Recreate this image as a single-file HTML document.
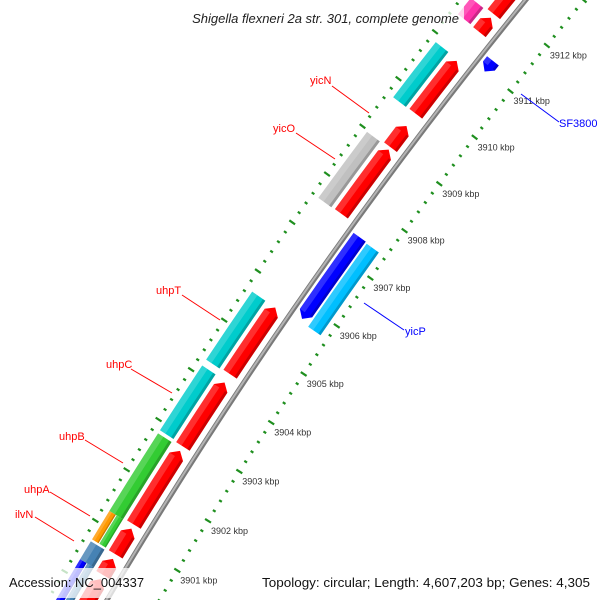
<!DOCTYPE html>
<html><head><meta charset="utf-8"><style>
html,body{margin:0;padding:0;background:#fff;width:600px;height:600px;overflow:hidden}
svg{display:block;font-family:"Liberation Sans",sans-serif;overflow:hidden}
</style></head><body>
<svg id="map" width="600" height="600" viewBox="0 0 600 600" xmlns="http://www.w3.org/2000/svg">
<defs><clipPath id="frame"><rect x="0" y="0" width="600" height="600"/></clipPath></defs>
<rect x="0" y="0" width="600" height="600" fill="#fff"/>
<g clip-path="url(#frame)">
<g id="ticks"></g>
<g id="backbone"></g>
<g id="features"></g>
<g id="kbplabels"></g>
</g>
<g font-size="11">
<g stroke="#ff0000" stroke-width="1">
<line x1="332" y1="86" x2="369" y2="113"/>
<line x1="296" y1="133" x2="335" y2="159"/>
<line x1="182" y1="295" x2="220" y2="320"/>
<line x1="131" y1="369" x2="172" y2="393"/>
<line x1="85" y1="440" x2="123" y2="463"/>
<line x1="50" y1="492" x2="90" y2="516"/>
<line x1="35" y1="517" x2="74" y2="541"/>
</g>
<g stroke="#0000ff" stroke-width="1">
<line x1="364" y1="303" x2="404" y2="330"/>
<line x1="521" y1="94" x2="559" y2="122"/>
</g>
<g fill="#ff0000">
<text x="310" y="84">yicN</text>
<text x="273" y="132">yicO</text>
<text x="156" y="294">uhpT</text>
<text x="106" y="368">uhpC</text>
<text x="59" y="440">uhpB</text>
<text x="24" y="493">uhpA</text>
<text x="15" y="518">ilvN</text>
</g>
<g fill="#0000ff">
<text x="405" y="335">yicP</text>
<text x="559" y="127">SF3800</text>
</g>
</g>
<rect x="138" y="5" width="326" height="24" fill="#fff" fill-opacity="0.75"/>
<text x="459" y="23" text-anchor="end" font-size="13" font-style="italic" fill="#222">Shigella flexneri 2a str. 301, complete genome</text>
<rect x="4" y="568" width="147" height="30" fill="#fff" fill-opacity="0.75"/>
<text x="9" y="587" font-size="13" fill="#111" textLength="135" lengthAdjust="spacingAndGlyphs">Accession: NC_004337</text>
<rect x="256" y="568" width="340" height="30" fill="#fff" fill-opacity="0.75"/>
<text x="262" y="587" font-size="13" fill="#111" textLength="328" lengthAdjust="spacingAndGlyphs">Topology: circular; Length: 4,607,203 bp; Genes: 4,305</text>
</svg>
<script>
// forward strand genes (kbp)
const fwdStart=[3899.5,3900.28,3900.69,3901.28,3902.84,3904.30,3907.60,3909.00,3909.71,3911.46,3911.85];
const fwdEnd=[3900.2,3900.60,3901.20,3902.75,3904.13,3905.66,3908.95,3909.45,3910.84,3911.77,3913.8];
// reverse strand genes (kbp)
const revStart=[3905.76,3910.99];
const revEnd=[3907.46,3911.22];
// inner second ring
const in2Start=[3905.71];
const in2End=[3907.44];
const in2Color=["#00bfff"];
// outer category ring
const catStart=[3899.0,3899.0,3900.31,3900.70,3900.70,3901.26,3902.86,3904.28,3907.59,3909.70,3911.47];
const catEnd=[3900.31,3900.31,3900.66,3901.26,3901.26,3902.80,3904.16,3905.66,3908.97,3910.87,3911.82];
const catColor=["#0000ff","#4682b4","#4682b4","#ff9900","#33cc33","#33cc33","#00cccc","#00cccc","#c0c0c0","#00cccc","#ff33aa"];
const catLane=[1,2,0,1,2,0,0,0,0,0,0];
// tick labels
const tickKbp=[3901,3902,3903,3904,3905,3906,3907,3908,3909,3910,3911,3912];

const NS="http://www.w3.org/2000/svg";
const C=[4362.6,3124.4], deg0=213.44, dpk=0.6825, k0=3904;
function A(k){return (deg0+dpk*(k-k0))*Math.PI/180;}
function P(r,a){return [C[0]+r*Math.cos(a),C[1]+r*Math.sin(a)];}
function f(p){return p[0].toFixed(2)+" "+p[1].toFixed(2);}
function arcPath(r1,r2,k1,k2,dir){
  const a1=A(k1),a2=A(k2),rm=(r1+r2)/2,h=7/rm;
  if(dir===1){const b=a2-h;return "M"+f(P(r2,a1))+" A"+r2+" "+r2+" 0 0 1 "+f(P(r2,b))+" L"+f(P(rm,a2))+" L"+f(P(r1,b))+" A"+r1+" "+r1+" 0 0 0 "+f(P(r1,a1))+" Z";}
  if(dir===-1){const b=a1+h;return "M"+f(P(rm,a1))+" L"+f(P(r2,b))+" A"+r2+" "+r2+" 0 0 1 "+f(P(r2,a2))+" L"+f(P(r1,a2))+" A"+r1+" "+r1+" 0 0 0 "+f(P(r1,b))+" Z";}
  return "M"+f(P(r2,a1))+" A"+r2+" "+r2+" 0 0 1 "+f(P(r2,a2))+" L"+f(P(r1,a2))+" A"+r1+" "+r1+" 0 0 0 "+f(P(r1,a1))+" Z";
}
function mk(tag,attrs,parent){const e=document.createElementNS(NS,tag);for(const k in attrs)e.setAttribute(k,attrs[k]);parent.appendChild(e);return e;}
const gT=document.getElementById("ticks"),gB=document.getElementById("backbone"),gF=document.getElementById("features"),gL=document.getElementById("kbplabels");

// ticks
for(let i=0;i<=75;i++){
  const k=3899+i*0.2, major=(i%5===0), a=A(k);
  [[4903,major?3.5:1.6],[4999,major?3.5:1.6]].forEach(function(rr,j){
    const p1=P(rr[0]-rr[1],a),p2=P(rr[0]+rr[1],a);
    const ln=mk("line",{x1:p1[0],y1:p1[1],x2:p2[0],y2:p2[1],stroke:"#1f8f1f","stroke-width":2.2},gT);
    
    
  });
}
// backbone
const bp1=P(4948,A(3898.5)),bp2=P(4948,A(3914));
const bb=mk("path",{d:"M"+f(bp1)+" A4948 4948 0 0 1 "+f(bp2),fill:"none",stroke:"#7a7a7a","stroke-width":5},gB);


const bb2=mk("path",{d:"M"+f(P(4948.6,A(3898.5)))+" A4948.6 4948.6 0 0 1 "+f(P(4948.6,A(3914))),fill:"none",stroke:"#b4b4b4","stroke-width":2},gB);



function feature(r1,r2,k1,k2,dir,color,name){
  const p=mk("path",{d:arcPath(r1,r2,k1,k2,dir),fill:color},gF);
  
  
  const h=7/((r1+r2)/2)/(dpk*Math.PI/180);
  const b1=dir===-1?k1+h:k1, b2=dir===1?k2-h:k2;
  const w=r2-r1;
  const hi=mk("path",{d:arcPath(r2-w*0.4,r2,b1,b2,0),fill:"#fff","fill-opacity":0.18},gF);
  
  
  const sh=mk("path",{d:arcPath(r1,r1+w*0.18,b1,b2,0),fill:"#000","fill-opacity":0.2},gF);
  
  
}
for(let i=0;i<fwdStart.length;i++) feature(4956,4972,fwdStart[i],fwdEnd[i],1,"#ff0000","forward-gene");
for(let i=0;i<revStart.length;i++) feature(4928,4943,revStart[i],revEnd[i],-1,"#0000ff","reverse-gene");
for(let i=0;i<in2Start.length;i++) feature(4911,4926,in2Start[i],in2End[i],0,in2Color[i],"inner-ring-gene");
for(let i=0;i<catStart.length;i++){
  let r1=4976,r2=4992;
  if(catLane[i]===1) r1=4984.5;
  if(catLane[i]===2) r2=4983.5;
  feature(r1,r2,catStart[i],catEnd[i],0,catColor[i],"category-gene");
}
// kbp labels
tickKbp.forEach(function(k){
  const p=P(4903,A(k));
  const t=mk("text",{x:(p[0]+3).toFixed(1),y:(p[1]+13).toFixed(1),"font-size":9,fill:"#333"},gL);
  t.textContent=k+" kbp";
  
  
});
</script>
</body></html>
